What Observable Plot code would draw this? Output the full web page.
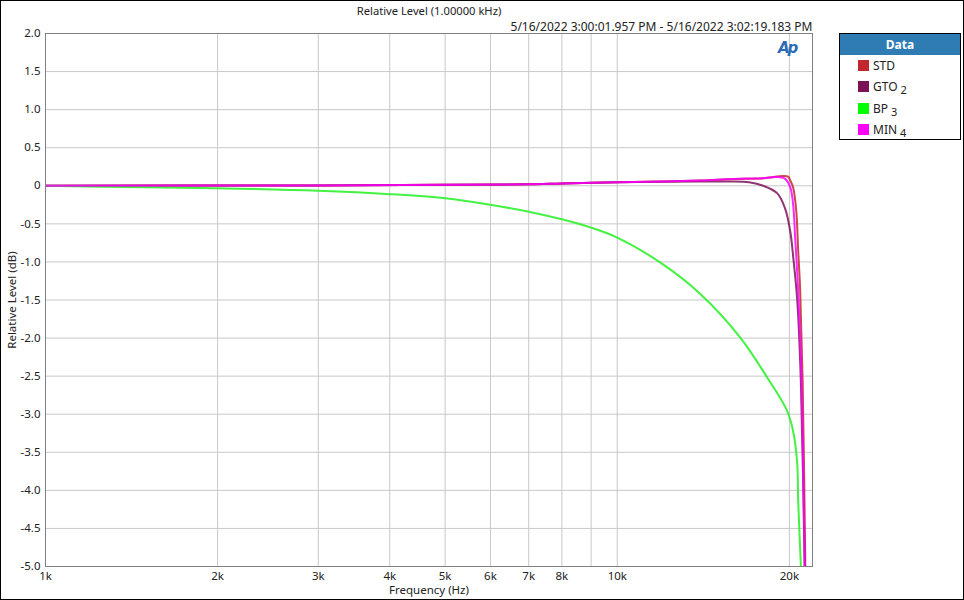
<!DOCTYPE html>
<html><head><meta charset="utf-8">
<script src="https://cdn.jsdelivr.net/npm/d3@7"></script>
<script src="https://cdn.jsdelivr.net/npm/@observablehq/plot@0.6"></script>
<style>
body{margin:0;font-family:"Noto Sans",sans-serif;background:#fff;}
#wrap{position:relative;width:964px;height:600px;overflow:hidden;}
#border{position:absolute;left:0;top:0;width:964px;height:600px;box-sizing:border-box;border:1px solid #000;pointer-events:none;}
#legend{position:absolute;left:839px;top:33px;width:122px;height:107px;box-sizing:border-box;border:1px solid #000;background:#fff;font-size:12px;color:#222;}
#legend .hd{background:#2f7cb4;color:#fff;font-weight:bold;text-align:center;height:21px;line-height:21px;font-size:12px;}
#legend .row{position:absolute;left:18px;height:14px;line-height:14px;}
#legend .sw{display:inline-block;width:11px;height:11px;vertical-align:-1px;margin-right:4px;box-sizing:border-box;}
#legend sub{font-size:11px;vertical-align:-3px;margin-left:3px;}
#logo{position:absolute;left:778px;top:39px;color:#2a6bb5;font-style:italic;font-weight:bold;font-size:15px;font-family:"DejaVu Sans",sans-serif;letter-spacing:-2px;}
</style></head>
<body>
<div id="wrap"><div id="chart"></div>
<div id="logo">Ap</div>
<div id="legend"><div class="hd">Data</div></div>
<div id="border"></div></div>
<script>
const title = "Relative Level (1.00000 kHz)";
const subtitle = "5/16/2022 3:00:01.957 PM - 5/16/2022 3:02:19.183 PM";
const xLabel = "Frequency (Hz)";
const yLabel = "Relative Level (dB)";
const xTicks = [1000,2000,3000,4000,5000,6000,7000,8000,9000,10000,20000];
const yTicks = [2,1.5,1,0.5,0,-0.5,-1,-1.5,-2,-2.5,-3,-3.5,-4,-4.5,-5];

const seriesNames = ["STD","GTO","BP","MIN"];
const seriesSubs = ["","2","3","4"];
const seriesColors = ["#c1272d","#7b1258","#22f022","#ff00ff"];
const legendSwatch = ["#c1272d","#7b1258","#00ff00","#ff00ff"];

const stdFreq  = [1000,3000,5000,7000,8000,10000,12000,14000,16000,18000,19500,19900,20070,20300,20560,20720,20890,21100,21350];
const stdLevel = [0,0.005,0.012,0.02,0.03,0.045,0.055,0.07,0.09,0.1,0.13,0.12,0.07,-0.02,-0.33,-0.85,-1.38,-2.6,-5.3];

const gtoFreq  = [1000,3000,5000,7000,8000,10000,12000,14000,15760,17000,18000,19050,19660,20070,20300,20640,20950,21300];
const gtoLevel = [0,0.005,0.012,0.02,0.03,0.045,0.052,0.056,0.056,0.045,0,-0.1,-0.3,-0.6,-0.92,-1.5,-2.6,-5.3];

const bpFreq  = [1000,1500,2000,3000,4000,5000,6000,7000,8000,9000,10000,11900,13970,16400,18300,19800,20300,20640,20720,20950,21100];
const bpLevel = [0,-0.02,-0.033,-0.066,-0.11,-0.165,-0.25,-0.34,-0.44,-0.55,-0.68,-1.01,-1.42,-1.99,-2.52,-2.95,-3.22,-3.65,-4.14,-5.0,-5.6];

const minFreq  = [1000,3000,5000,7000,8000,10000,12000,14000,16000,18000,19000,19660,20070,20300,20470,20720,21000,21300];
const minLevel = [0,0.005,0.012,0.02,0.03,0.045,0.055,0.07,0.09,0.1,0.115,0.09,-0.02,-0.24,-0.68,-1.38,-2.55,-5.3];

const freqs = [stdFreq, gtoFreq, bpFreq, minFreq];
const levels = [stdLevel, gtoLevel, bpLevel, minLevel];
const rows = seriesNames.flatMap((s, i) => freqs[i].map((f, j) => ({s, f, v: levels[i][j]})));

const fmtY = d => d === 0 ? "0" : d.toFixed(1);
const fmtX = d => (d / 1000) + "k";

const chart = Plot.plot({
  width: 964, height: 600,
  marginLeft: 45, marginRight: 152, marginTop: 33, marginBottom: 34,
  style: {fontFamily: "Noto Sans", fontSize: "11.5px", color: "#222", background: "transparent"},
  x: {type: "log", domain: [1000, 21950]},
  y: {domain: [-5, 2]},
  color: {domain: seriesNames, range: seriesColors},
  marks: [
    Plot.gridX(xTicks, {stroke: "#c8c8c8", strokeOpacity: 1}),
    Plot.gridY(yTicks, {stroke: "#c8c8c8", strokeOpacity: 1}),
    Plot.axisX(xTicks, {tickSize: 0, tickPadding: 5, tickFormat: fmtX, label: xLabel, labelAnchor: "center", labelArrow: "none", labelOffset: 27}),
    Plot.axisY(yTicks, {tickSize: 0, tickPadding: 5, tickFormat: fmtY, label: yLabel, labelAnchor: "center", labelArrow: "none", labelOffset: 38}),
    Plot.line(rows, {x: "f", y: "v", z: "s", stroke: "s", strokeWidth: 2, strokeOpacity: 0.85, curve: "catmull-rom", clip: true}),
    Plot.frame({stroke: "#808080"}),
    Plot.text([title], {frameAnchor: "top", dy: -26, fontSize: 11.2, fill: "#222"}),
    Plot.text([subtitle], {frameAnchor: "top-right", textAnchor: "end", dy: -11, fontSize: 12, fill: "#222"})
  ]
});
document.getElementById("chart").appendChild(chart);

const legend = document.getElementById("legend");
seriesNames.forEach((s, i) => {
  const r = document.createElement("div");
  r.className = "row";
  r.style.top = (25 + i * 21.3) + "px";
  r.innerHTML = `<span class="sw" style="background:${legendSwatch[i]};border:1px solid ${legendSwatch[i]}99"></span>${s}${seriesSubs[i] ? `<sub>${seriesSubs[i]}</sub>` : ""}`;
  legend.appendChild(r);
});
</script>
</body></html>
